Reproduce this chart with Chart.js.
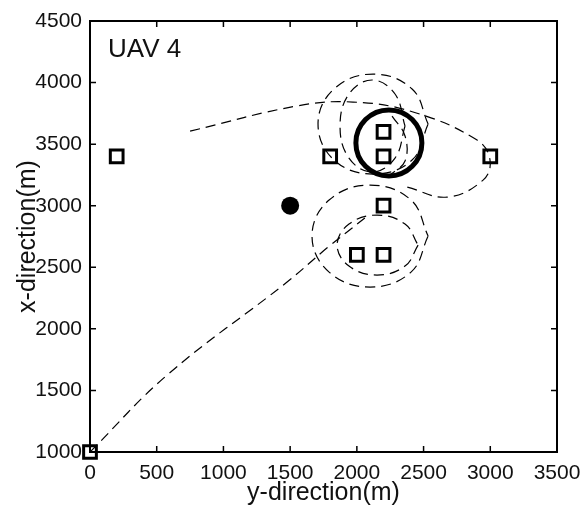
<!DOCTYPE html>
<html>
<head>
<meta charset="utf-8">
<script src="https://cdn.jsdelivr.net/npm/chart.js@4.4.1/dist/chart.umd.min.js"></script>
<style>
body { margin: 0; background: #fff; }
#c { display: block; }
</style>
</head>
<body>
<canvas id="c" width="581" height="508"></canvas>
<script>
// targets (squares): [y-direction, x-direction]
var targets = [[0,1000],[200,3400],[1800,3400],[2200,3600],[2200,3400],[3000,3400],[2200,3000],[2000,2600],[2200,2600]];
var threat = [[1500,3000]];
var loiter = [[2240,3510]];

// UAV 4 path pieces
var approach = [[0,1000],[577,1624],[1477,2380],[1780,2660],[2060,2900]];
var sweep = [[750,3606],[1552,3810],[1971,3842],[2421,3761],[2901,3533],[2998,3371],[2946,3208],[2676,3070],[2376,3152]];
var lowerOuter = [[2534,2754],[2406,2461],[2099,2339],[1792,2461],[1664,2754],[1792,3046],[2099,3168],[2406,3046],[2534,2754]];
var lowerInner = [[2459,2680],[2361,2510],[2151,2437],[1941,2510],[1852,2680],[1941,2851],[2151,2924],[2361,2851],[2459,2680]];
var upperOuter = [[2534,3663],[2414,3371],[2121,3257],[1829,3371],[1709,3663],[1829,3948],[2121,4069],[2414,3948],[2534,3663]];
var upperInner = [[2361,3647],[2286,3387],[2114,3273],[1941,3387],[1874,3647],[1941,3907],[2114,4021],[2286,3907],[2361,3647]];
var curl = [[2264,3728],[2361,3566],[2361,3363],[2250,3250]];

var xTicks = [0,500,1000,1500,2000,2500,3000,3500];
var yTicks = [1000,1500,2000,2500,3000,3500,4000,4500];

function pts(a) {
	return a.map(function(p){ return {x: p[0], y: p[1]}; });
}

function dashed(a) {
	return {
		data: pts(a),
		showLine: true,
		borderColor: "#000",
		borderWidth: 1.2,
		borderDash: [10, 6],
		tension: 0.4,
		pointRadius: 0,
		fill: false
	};
}

var tickFont = { family: "'Liberation Sans', Arial, sans-serif", size: 21 };
var titleFont = { family: "'Liberation Sans', Arial, sans-serif", size: 25 };

var framePlugin = {
	id: "frame",
	afterDraw: function(chart) {
		var ctx = chart.ctx;
		var a = chart.chartArea;
		var xs = chart.scales.x, ys = chart.scales.y;
		ctx.save();
		ctx.strokeStyle = "#000";
		ctx.lineWidth = 2;
		ctx.strokeRect(a.left, a.top, a.right - a.left, a.bottom - a.top);
		ctx.lineWidth = 1.5;
		ctx.beginPath();
		xTicks.forEach(function(v){
			var px = xs.getPixelForValue(v);
			ctx.moveTo(px, a.bottom); ctx.lineTo(px, a.bottom - 6);
			ctx.moveTo(px, a.top); ctx.lineTo(px, a.top + 6);
		});
		yTicks.forEach(function(v){
			var py = ys.getPixelForValue(v);
			ctx.moveTo(a.left, py); ctx.lineTo(a.left + 6, py);
			ctx.moveTo(a.right, py); ctx.lineTo(a.right - 6, py);
		});
		ctx.stroke();
		ctx.fillStyle = "#111";
		ctx.font = "26px 'Liberation Sans', Arial, sans-serif";
		ctx.textBaseline = "alphabetic";
		ctx.fillText("UAV 4", a.left + 18, a.top + 36);
		ctx.restore();
	}
};

var datasets = [
	{
		data: pts(targets),
		pointStyle: "rect",
		pointRadius: 9,
		pointBorderWidth: 3,
		pointBorderColor: "#000",
		pointBackgroundColor: "rgba(0,0,0,0)",
		showLine: false,
		clip: false
	},
	{
		data: pts(threat),
		pointStyle: "circle",
		pointRadius: 9,
		pointBorderWidth: 0,
		pointBackgroundColor: "#000",
		showLine: false
	},
	{
		data: pts(loiter),
		pointStyle: "circle",
		pointRadius: 33,
		pointBorderWidth: 5,
		pointBorderColor: "#000",
		pointBackgroundColor: "rgba(0,0,0,0)",
		showLine: false
	},
	dashed(approach),
	dashed(sweep),
	dashed(lowerOuter),
	dashed(lowerInner),
	dashed(upperOuter),
	dashed(upperInner),
	dashed(curl)
];

var ctx = document.getElementById("c");

var chart = new Chart(ctx, {
	type: "scatter",
	data: { datasets: datasets },
	options: {
		responsive: false,
		animation: false,
		events: [],
		layout: { autoPadding: false, padding: { top: 21, right: 24, left: 0, bottom: 0 } },
		plugins: {
			legend: { display: false },
			tooltip: { enabled: false }
		},
		scales: {
			x: {
				type: "linear",
				min: 0,
				max: 3500,
				afterBuildTicks: function(s){ s.ticks = xTicks.map(function(v){ return {value: v}; }); },
				afterFit: function(s){ s.height = 56; s.paddingLeft = 0; s.paddingRight = 0; },
				grid: { display: false, drawTicks: false },
				border: { display: false },
				ticks: { color: "#111", font: tickFont, padding: 9, maxRotation: 0, autoSkip: false,
					callback: function(v){ return String(v); } },
				title: { display: true, text: "y-direction(m)", color: "#111", font: titleFont, padding: 0 }
			},
			y: {
				type: "linear",
				min: 1000,
				max: 4500,
				afterBuildTicks: function(s){ s.ticks = yTicks.map(function(v){ return {value: v}; }); },
				afterFit: function(s){ s.width = 90; s.paddingTop = 0; s.paddingBottom = 0; },
				grid: { display: false, drawTicks: false },
				border: { display: false },
				ticks: { color: "#111", font: tickFont, padding: 8, autoSkip: false,
					callback: function(v){ return String(v); } },
				title: { display: true, text: "x-direction(m)", color: "#111", font: titleFont, padding: { top: 13, bottom: 0 } }
			}
		}
	},
	plugins: [framePlugin]
});
</script>
</body>
</html>
